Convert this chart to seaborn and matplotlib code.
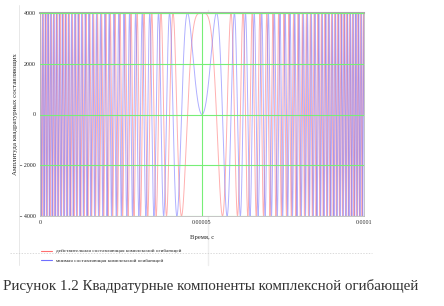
import numpy as np
import pandas as pd
import matplotlib
matplotlib.use("Agg")
import matplotlib.pyplot as plt
import seaborn as sns
from matplotlib.lines import Line2D

# --- chart values ---
amplitude = 4000.0           # peak of each quadrature component
duration = 1e-4              # pulse length, s
bandwidth = 2.5e6            # LFM sweep, Hz (from spacing of zero crossings)
n_samples = 20001
y_ticks = [-4000, -2000, 0, 2000, 4000]
y_tick_labels = ["\u2212 4000", "\u2212 2000", "0", "2000", "4000"]
x_ticks = [0, 5e-5, 1e-4]
x_tick_labels = ["0", "0.00005", "0.0001"]
series_names = ["действительная составляющая комплексной огибающей",
                "мнимая составляющая комплексной огибающей"]
x_label = "Время, с"
y_label = "Амплитуда квадратурных составляющих"
caption = "Рисунок 1.2 Квадратурные компоненты комплексной огибающей"

# complex envelope of the LFM pulse
t = np.linspace(0, duration, n_samples)
k = bandwidth / duration
phase = np.pi * k * (t - duration / 2) ** 2
re = amplitude * np.cos(phase)
im = amplitude * np.sin(phase)

df = pd.concat([
    pd.DataFrame({"t": t, "v": re, "s": series_names[0]}),
    pd.DataFrame({"t": t, "v": im, "s": series_names[1]}),
])

sns.set_style("white")
plt.rcParams["font.family"] = ["Liberation Serif", "DejaVu Serif"]

fig = plt.figure(figsize=(4.44, 3.06), dpi=100)
ax = fig.add_axes([40 / 444, 1 - 216 / 306, 324 / 444, 203 / 306])

red = "#ff6f6f"
blue = "#6f6fff"
sns.lineplot(data=df, x="t", y="v", hue="s", palette=[red, blue],
             linewidth=0.7, alpha=0.55, ax=ax, legend=False,
             estimator=None, sort=False)

ax.set_xlim(0, duration)
ax.set_ylim(-4000, 4000)
ax.set_yticks(y_ticks)
ax.set_yticklabels(y_tick_labels)
ax.set_xticks(x_ticks)
ax.set_xticklabels(x_tick_labels)
ax.tick_params(labelsize=4.3, length=2, width=0.4, pad=1, color="#999999")
ax.set_xlabel("")
ax.set_ylabel("")

for yv in y_ticks:
    ax.axhline(yv, color="#77ee77", lw=0.8, zorder=3)
ax.axvline(x_ticks[1], color="#77ee77", lw=0.8, zorder=3)

for side in ["left", "right", "bottom"]:
    ax.spines[side].set_color("#bbbbbb")
    ax.spines[side].set_linewidth(0.6)
ax.spines["top"].set_color("#aaaaaa")
ax.spines["top"].set_linewidth(1.5)

fig.text(202 / 444, 1 - 238 / 306, x_label, fontsize=4.8, ha="center", va="center")
fig.text(15 / 444, 1 - 114 / 306, y_label, fontsize=5, rotation=90,
         ha="center", va="center")

# legend
handles = [Line2D([0], [0], color=red, lw=0.8), Line2D([0], [0], color=blue, lw=0.8)]
fig.legend(handles, series_names, loc="upper left",
           bbox_to_anchor=(36 / 444, 1 - 244 / 306), frameon=False,
           fontsize=3.8, handlelength=2.2, handletextpad=0.6, labelspacing=0.9)

# page frame artifacts
fig.add_artist(Line2D([19 / 444, 19 / 444], [1 - 5 / 306, 1 - 265 / 306],
                      color="#e4e4e4", lw=0.6))
fig.add_artist(Line2D([208 / 444, 208 / 444], [1 - 10 / 306, 1 - 265 / 306],
                      color="#eeeeee", lw=1.0, zorder=0))
fig.add_artist(Line2D([10 / 444, 372 / 444], [1 - 253 / 306, 1 - 253 / 306],
                      color="#cccccc", lw=0.5, ls=(0, (2, 2))))

fig.text(3 / 444, 1 - 286 / 306, caption, fontsize=10.8, ha="left", va="center",
         color="#333333")

fig.savefig("out.png", dpi=100)
